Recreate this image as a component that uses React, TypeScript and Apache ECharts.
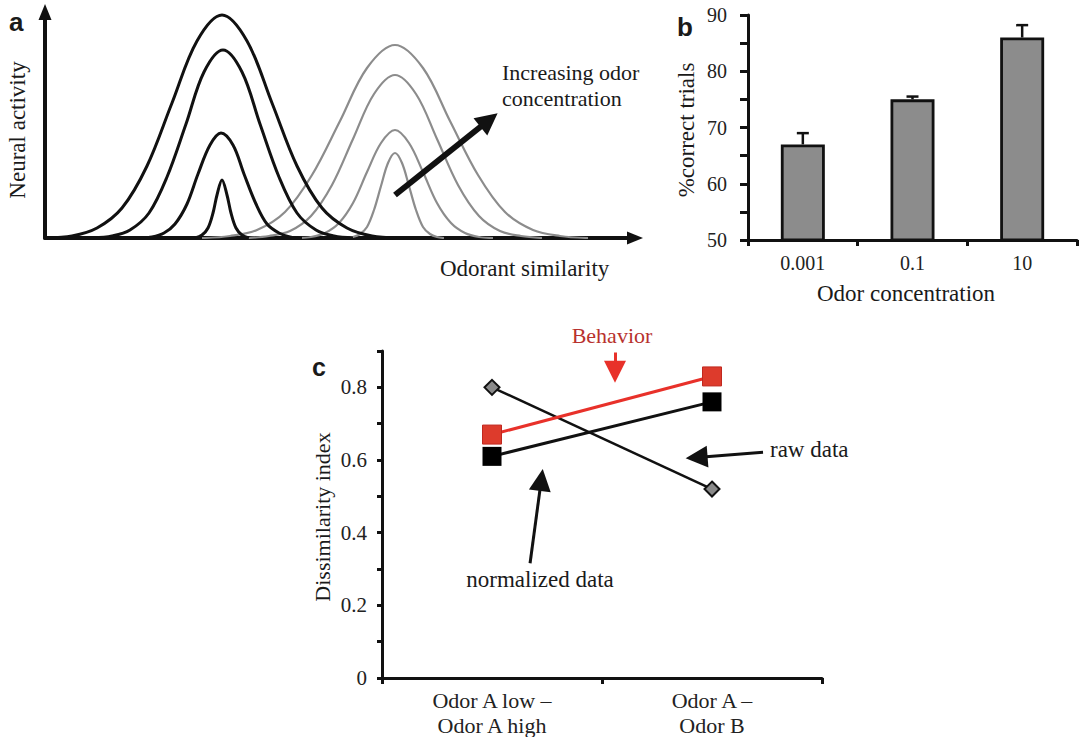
import React, { useEffect, useRef } from "react";
import * as echarts from "echarts";

// ---------- Panel a: schematic tuning curves (x: odorant similarity, y: neural activity) ----------
const blackCurve1 = [[2,0],[27,2],[52,10],[77,30],[102,72],[127,135],[152,197],[177,223],[202,197],[227,135],[252,72],[277,30],[302,10],[327,2],[352,0]];
const blackCurve2 = [[48,0],[67,2],[85,8],[104,25],[122,61],[141,114],[159,166],[178,188],[197,166],[215,114],[234,61],[252,25],[271,8],[289,2],[308,0]];
const blackCurve3 = [[96,0],[107,1],[119,5],[130,14],[142,34],[153,64],[165,93],[176,105],[188,93],[199,64],[211,34],[222,14],[234,5],[245,1],[257,0]];
const blackCurve4 = [[150,0],[157,3],[163,10],[168,25],[172,43],[177,58],[182,43],[186,25],[191,10],[197,3],[204,0]];
const grayCurve1 = [[157,0],[185,2],[212,8],[240,26],[267,63],[295,117],[322,170],[350,193],[378,170],[405,117],[433,63],[460,26],[488,8],[515,2],[543,0]];
const grayCurve2 = [[203,0],[224,2],[245,7],[266,22],[287,53],[308,99],[329,144],[350,163],[371,144],[392,99],[413,53],[434,22],[455,7],[476,2],[497,0]];
const grayCurve3 = [[252,0],[266,1],[280,5],[294,15],[308,35],[322,66],[336,95],[350,108],[364,95],[378,66],[392,35],[406,15],[420,5],[434,1],[448,0]];
const grayCurve4 = [[301,0],[308,1],[315,4],[322,11],[329,28],[336,52],[343,75],[350,85],[357,75],[364,52],[371,28],[378,11],[385,4],[392,1],[399,0]];
const blackCurves = [blackCurve1, blackCurve2, blackCurve3, blackCurve4];
const grayCurves = [grayCurve1, grayCurve2, grayCurve3, grayCurve4];

// ---------- Panel b ----------
const concLabels = ["0.001", "0.1", "10"];
const correctPct = [67, 75, 86];
const correctErrTop = [69, 75.5, 88.2];

// ---------- Panel c ----------
const pairLabels = ["Odor A low –\nOdor A high", "Odor A –\nOdor B"];
const rawData = [0.8, 0.52];
const normalizedData = [0.61, 0.76];
const behaviorData = [0.67, 0.83];

const SERIF = '"Liberation Serif", "DejaVu Serif", serif';
const SANS = '"Liberation Sans", Arial, sans-serif';

function txt(text: string, x: number, y: number, opts: any = {}) {
  return {
    type: "text",
    x,
    y,
    rotation: opts.rotation || 0,
    z: 100,
    style: {
      text,
      font: opts.font || `22px ${SERIF}`,
      fill: opts.fill || "#1a1a1a",
      align: opts.align || "left",
      verticalAlign: "middle",
      textAlign: opts.align || "left",
      textVerticalAlign: "middle",
    },
  };
}

export default function App() {
  const ref = useRef<HTMLDivElement>(null);

  useEffect(() => {
    if (!ref.current) return;
    const chart = echarts.init(ref.current, null, { renderer: "svg" });

    const curveSeries: any[] = [];
    grayCurves.forEach((c) =>
      curveSeries.push({
        type: "line",
        xAxisIndex: 0,
        yAxisIndex: 0,
        data: c,
        smooth: 0.35,
        showSymbol: false,
        lineStyle: { color: "#8c8c8c", width: 2.2 },
        z: 2,
      })
    );
    blackCurves.forEach((c) =>
      curveSeries.push({
        type: "line",
        xAxisIndex: 0,
        yAxisIndex: 0,
        data: c,
        smooth: 0.35,
        showSymbol: false,
        lineStyle: { color: "#111", width: 3 },
        z: 3,
      })
    );

    const option: any = {
      animation: false,
      backgroundColor: "#fff",
      grid: [
        { left: 45, top: 12, width: 590, height: 226, outerBoundsMode: "none" },
        { left: 748, top: 15, width: 329, height: 225, outerBoundsMode: "none" },
        { left: 382, top: 351, width: 440, height: 327, outerBoundsMode: "none" },
      ],
      xAxis: [
        {
          gridIndex: 0,
          type: "value",
          min: 0,
          max: 590,
          axisLine: { show: true, onZero: false, symbol: ["none", "triangle"], symbolSize: [13, 16], lineStyle: { color: "#111", width: 4 } },
          axisTick: { show: false },
          axisLabel: { show: false },
          splitLine: { show: false },
        },
        {
          gridIndex: 1,
          type: "category",
          data: concLabels,
          boundaryGap: true,
          axisLine: { show: true, lineStyle: { color: "#111", width: 3 } },
          axisTick: { show: true, length: 6, lineStyle: { color: "#111", width: 3 } },
          axisLabel: { fontFamily: SERIF, fontSize: 20, color: "#222", margin: 13 },
          splitLine: { show: false },
        },
        {
          gridIndex: 2,
          type: "category",
          data: pairLabels,
          boundaryGap: true,
          axisLine: { show: true, lineStyle: { color: "#111", width: 3 } },
          axisTick: { show: true, length: 6, lineStyle: { color: "#111", width: 3 } },
          axisLabel: { fontFamily: SERIF, fontSize: 22, color: "#222", margin: 10, lineHeight: 25 },
          splitLine: { show: false },
        },
        {
          gridIndex: 2,
          type: "value",
          min: 0,
          max: 2,
          show: false,
        },
      ],
      yAxis: [
        {
          gridIndex: 0,
          type: "value",
          min: 0,
          max: 226,
          axisLine: { show: true, onZero: false, symbol: ["none", "triangle"], symbolSize: [13, 16], lineStyle: { color: "#111", width: 4 } },
          axisTick: { show: false },
          axisLabel: { show: false },
          splitLine: { show: false },
        },
        {
          gridIndex: 1,
          type: "value",
          min: 50,
          max: 90,
          interval: 10,
          axisLine: { show: true, lineStyle: { color: "#111", width: 3 } },
          axisTick: { show: true, length: 8, lineStyle: { color: "#111", width: 3 } },
          minorTick: { show: true, splitNumber: 2, length: 8, lineStyle: { color: "#111", width: 3 } },
          axisLabel: { fontFamily: SERIF, fontSize: 20, color: "#222", margin: 21 },
          splitLine: { show: false },
        },
        {
          gridIndex: 2,
          type: "value",
          min: 0,
          max: 0.9,
          interval: 0.1,
          axisLine: { show: true, lineStyle: { color: "#111", width: 3 } },
          axisTick: { show: true, length: 5, lineStyle: { color: "#111", width: 3 } },
          axisLabel: {
            fontFamily: SERIF,
            fontSize: 21,
            color: "#222",
            margin: 15,
            formatter: (v: number) => {
              const r = Math.round(v * 10);
              if (r % 2 !== 0 || r > 8) return "";
              return r === 0 ? "0" : (r / 10).toString();
            },
          },
          splitLine: { show: false },
        },
      ],
      series: [
        ...curveSeries,
        {
          type: "lines",
          coordinateSystem: "cartesian2d",
          xAxisIndex: 0,
          yAxisIndex: 0,
          symbol: ["none", "triangle"],
          symbolSize: 22,
          lineStyle: { color: "#111", width: 6, opacity: 1 },
          data: [{ coords: [[350, 43], [444, 118]] }],
          z: 5,
        },
        // Panel b
        {
          type: "bar",
          xAxisIndex: 1,
          yAxisIndex: 1,
          data: correctPct,
          barWidth: 44,
          itemStyle: { color: "#8c8c8c", borderColor: "#111", borderWidth: 2.8 },
          z: 2,
        },
        {
          type: "custom",
          xAxisIndex: 1,
          yAxisIndex: 1,
          data: correctPct.map((v, i) => [i, v, correctErrTop[i]]),
          encode: { x: 0, y: [1, 2] },
          z: 3,
          renderItem: (params: any, api: any) => {
            const i = api.value(0);
            const base = api.coord([i, api.value(1)]);
            const top = api.coord([i, api.value(2)]);
            return {
              type: "group",
              children: [
                { type: "line", shape: { x1: base[0], y1: base[1], x2: top[0], y2: top[1] }, style: { stroke: "#111", lineWidth: 2.5 } },
                { type: "line", shape: { x1: top[0] - 6, y1: top[1], x2: top[0] + 6, y2: top[1] }, style: { stroke: "#111", lineWidth: 2.5 } },
              ],
            };
          },
        },
        // Panel c
        {
          name: "raw data",
          type: "line",
          xAxisIndex: 2,
          yAxisIndex: 2,
          data: rawData,
          symbol: "diamond",
          symbolSize: 15,
          lineStyle: { color: "#111", width: 2.5 },
          itemStyle: { color: "#8a8a8a", borderColor: "#111", borderWidth: 2 },
          z: 3,
        },
        {
          name: "normalized data",
          type: "line",
          xAxisIndex: 2,
          yAxisIndex: 2,
          data: normalizedData,
          symbol: "rect",
          symbolSize: 19,
          lineStyle: { color: "#111", width: 3 },
          itemStyle: { color: "#000" },
          z: 4,
        },
        {
          name: "Behavior",
          type: "line",
          xAxisIndex: 2,
          yAxisIndex: 2,
          data: behaviorData,
          symbol: "rect",
          symbolSize: 19,
          lineStyle: { color: "#e8312a", width: 3 },
          itemStyle: { color: "#dd3b2c", borderColor: "#c0281f", borderWidth: 1 },
          z: 5,
        },
        {
          type: "lines",
          coordinateSystem: "cartesian2d",
          xAxisIndex: 3,
          yAxisIndex: 2,
          symbol: ["none", "triangle"],
          symbolSize: 22,
          lineStyle: { color: "#e8312a", width: 3, opacity: 1 },
          data: [{ coords: [[1.059, 0.896], [1.059, 0.843]] }],
          z: 6,
        },
        {
          type: "lines",
          coordinateSystem: "cartesian2d",
          xAxisIndex: 3,
          yAxisIndex: 2,
          symbol: ["none", "triangle"],
          symbolSize: 22,
          lineStyle: { color: "#111", width: 3, opacity: 1 },
          data: [
            { coords: [[1.732, 0.621], [1.43, 0.607]] },
            { coords: [[0.673, 0.316], [0.724, 0.545]] },
          ],
          z: 6,
        },
      ],
      graphic: [
        txt("a", 9, 22, { font: `bold 26px ${SANS}` }),
        txt("b", 677, 27, { font: `bold 26px ${SANS}` }),
        txt("c", 312, 367, { font: `bold 25px ${SANS}` }),
        txt("Neural activity", 17, 130, { align: "center", rotation: Math.PI / 2, font: `23px ${SERIF}` }),
        txt("Odorant similarity", 440, 268, { font: `23px ${SERIF}` }),
        txt("Increasing odor", 502, 72),
        txt("concentration", 502, 98),
        txt("%correct trials", 686, 130, { align: "center", rotation: Math.PI / 2, font: `23px ${SERIF}` }),
        txt("Odor concentration", 906, 293, { align: "center", font: `23px ${SERIF}` }),
        txt("Behavior", 612, 335, { align: "center", fill: "#b8322e" }),
        txt("raw data", 770, 449, { font: `23px ${SERIF}` }),
        txt("normalized data", 540, 579, { align: "center", font: `23px ${SERIF}` }),
        txt("Dissimilarity index", 322, 517, { align: "center", rotation: Math.PI / 2 }),
      ],
    };

    chart.setOption(option);
    return () => chart.dispose();
  }, []);

  return (
    <div
      ref={ref}
      style={{ position: "fixed", left: 0, top: 0, width: 1083, height: 737, background: "#fff" }}
    />
  );
}
